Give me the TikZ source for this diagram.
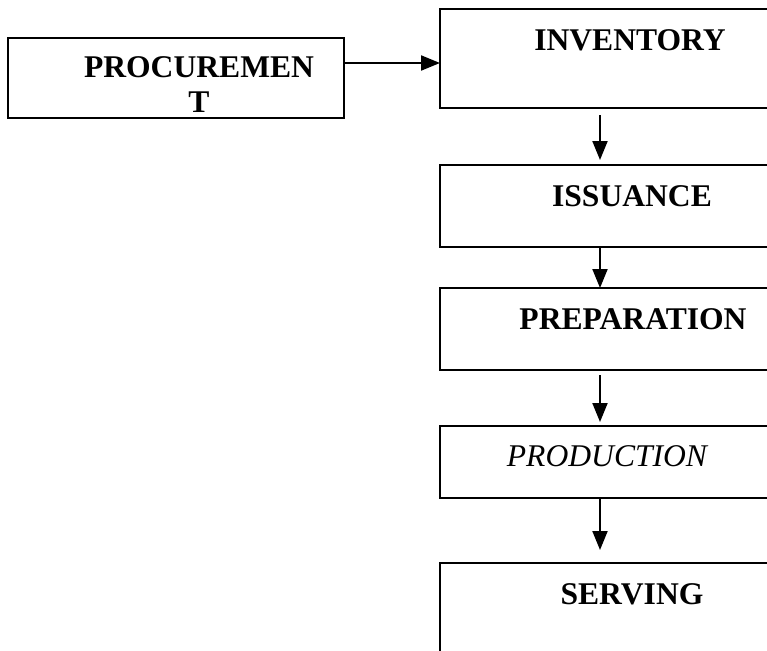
\documentclass[tikz,border=0pt]{standalone}
\usepackage{fontspec}
\setmainfont{Liberation Serif}
\usetikzlibrary{arrows.meta}
\begin{document}
\begin{tikzpicture}[x=1pt,y=-1pt,
  box/.style={draw, line width=2pt, rectangle, inner sep=0pt, outer sep=0pt, anchor=north west},
  lbl/.style={anchor=base, inner sep=0pt, font=\fontsize{31.6}{35}\selectfont\bfseries},
  lbli/.style={anchor=base, inner sep=0pt, font=\fontsize{31.6}{35}\selectfont\itshape},
  conn/.style={line width=2pt, -{Triangle[length=19pt,width=15pt]}}]
\clip (0,0) rectangle (767,650);
\useasboundingbox (0,0) rectangle (767,650);
\node[box, minimum width=336pt, minimum height=80pt] (proc) at (8,38) {};
\node[box, minimum width=390pt, minimum height=99pt] (inv) at (440,9) {};
\node[box, minimum width=390pt, minimum height=82pt] (iss) at (440,165) {};
\node[box, minimum width=390pt, minimum height=82pt] (prep) at (440,288) {};
\node[box, minimum width=390pt, minimum height=72pt] (prod) at (440,426) {};
\node[box, minimum width=390pt, minimum height=120pt] (serv) at (440,563) {};
\node[lbl, align=center] (tproc) at (199,113) {PROCUREMEN\\T};
\node[lbl] (tinv) at (630,51) {INVENTORY};
\node[lbl] (tiss) at (632,206) {ISSUANCE};
\node[lbl] (tprep) at (633,329) {PREPARATION};
\node[lbli] (tprod) at (607,466) {PRODUCTION};
\node[lbl] (tserv) at (632,604) {SERVING};
\coordinate (ax) at (600,0);
\draw[conn] ([yshift=15pt]proc.east) -- ([yshift=15pt]proc.east -| inv.west);
\draw[conn, shorten <=7pt, shorten >=5pt] (inv.south -| ax) -- (iss.north -| ax);
\draw[conn] (iss.south -| ax) -- (prep.north -| ax);
\draw[conn, shorten <=5pt, shorten >=4pt] (prep.south -| ax) -- (prod.north -| ax);
\draw[conn, shorten >=13pt] (prod.south -| ax) -- (serv.north -| ax);
\end{tikzpicture}
\end{document}
